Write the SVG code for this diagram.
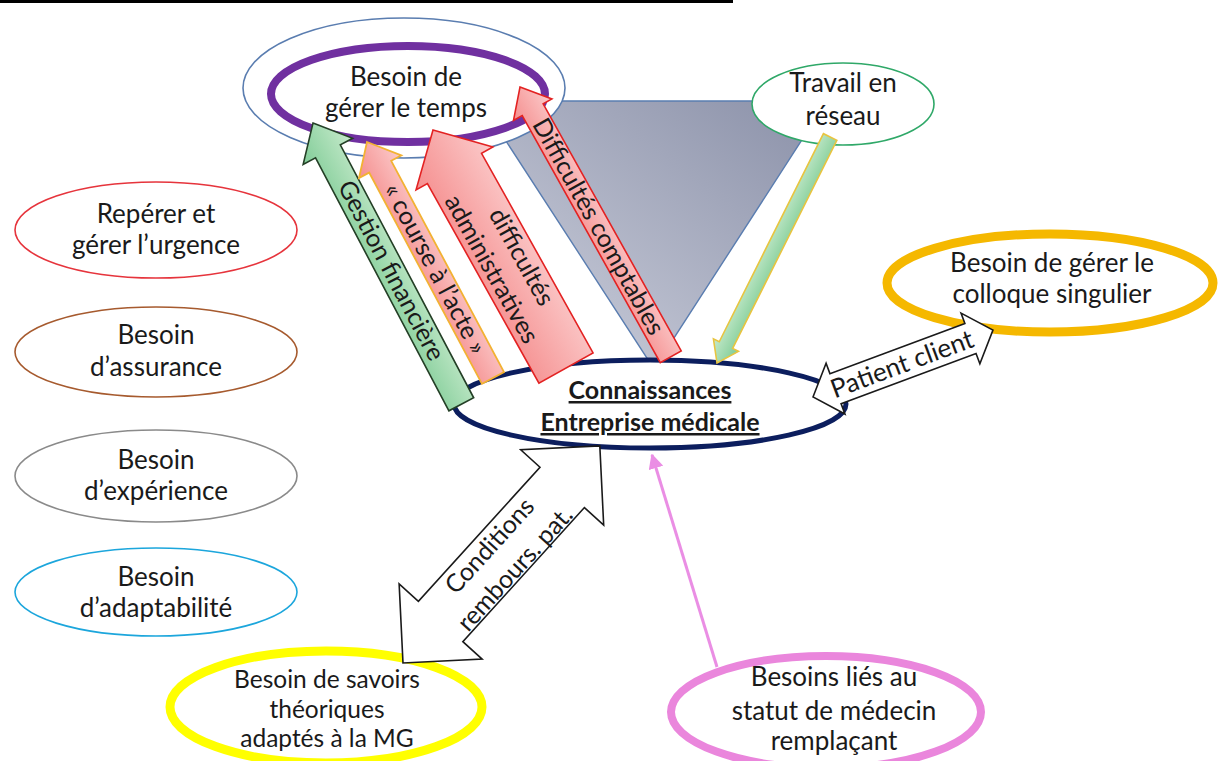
<svg xmlns="http://www.w3.org/2000/svg" width="1218" height="761" viewBox="0 0 1218 761">
  <defs>
    <style>
      text { font-family: "Lato", "Liberation Sans", sans-serif; fill: #1a1a1a; text-anchor: middle; }
      .lbl { font-size: 26px; }
      .lbl-sm { font-size: 24.5px; }
      .arr { font-size: 25px; }
      .bold { font-weight: bold; font-size: 25px; text-decoration: underline; }
      .thin { fill: #ffffff; stroke-width: 1.6; }
      .red-arrow { fill: url(#pinkFill); stroke: #e32222; stroke-width: 1.6; }
      .white-arrow { fill: #ffffff; stroke: #1a1a1a; stroke-width: 1.6; }
    </style>
    <linearGradient id="funnelFill" x1="0" y1="1" x2="1" y2="0">
      <stop offset="0" stop-color="#d0d3df"/>
      <stop offset="1" stop-color="#8a90a8"/>
    </linearGradient>
    <linearGradient id="pinkFill" x1="0" y1="0" x2="0" y2="1">
      <stop offset="0" stop-color="#fbcaca"/>
      <stop offset="1" stop-color="#f58e8e"/>
    </linearGradient>
    <linearGradient id="greenFill" x1="0" y1="0" x2="0" y2="1">
      <stop offset="0" stop-color="#c6eacb"/>
      <stop offset="1" stop-color="#80cc97"/>
    </linearGradient>
    <marker id="pinkHead" viewBox="0 0 10 10" refX="9" refY="5" markerWidth="5" markerHeight="5" orient="auto-start-reverse">
      <path d="M0,0 L10,5 L0,10 Z" fill="#ea8ee4"/>
    </marker>
  </defs>

  <!-- heading rule -->
  <rect x="0" y="0" width="733" height="3" fill="#000000"/>

  <!-- funnel backdrop -->
  <g id="funnel">
    <polygon points="480,101 827,101 654,369" fill="url(#funnelFill)" stroke="#5a7db0" stroke-width="1.4"/>
  </g>

  <!-- nodes -->
  <g id="node-temps">
    <ellipse cx="404" cy="88" rx="161" ry="70" class="thin" stroke="#5a7db0"/>
    <ellipse cx="408" cy="94" rx="137" ry="48" fill="#ffffff" stroke="#7030a0" stroke-width="8"/>
    <text class="lbl" x="406" y="86">Besoin de</text>
    <text class="lbl" x="406" y="117">gérer le temps</text>
  </g>

  <g id="node-reseau">
    <ellipse cx="843" cy="104" rx="91" ry="41" class="thin" stroke="#2fa868"/>
    <text class="lbl" x="843" y="92">Travail en</text>
    <text class="lbl" x="843" y="125">réseau</text>
  </g>

  <g id="node-connaissances">
    <ellipse cx="650" cy="404" rx="196" ry="44" fill="#ffffff" stroke="#0c1e5e" stroke-width="5"/>
    <text class="bold" x="650" y="399">Connaissances</text>
    <text class="bold" x="650" y="431">Entreprise médicale</text>
  </g>

  <g id="node-urgence">
    <ellipse cx="156" cy="230" rx="141" ry="48" class="thin" stroke="#e6343c"/>
    <text class="lbl" x="156" y="223">Repérer et</text>
    <text class="lbl" x="156" y="254">gérer l’urgence</text>
  </g>

  <g id="node-assurance">
    <ellipse cx="156" cy="352" rx="141" ry="45" class="thin" stroke="#a65a2e"/>
    <text class="lbl" x="156" y="344">Besoin</text>
    <text class="lbl" x="156" y="376">d’assurance</text>
  </g>

  <g id="node-experience">
    <ellipse cx="156" cy="476" rx="141" ry="46" class="thin" stroke="#8a8a8a"/>
    <text class="lbl" x="156" y="469">Besoin</text>
    <text class="lbl" x="156" y="500">d’expérience</text>
  </g>

  <g id="node-adaptabilite">
    <ellipse cx="156" cy="592" rx="141" ry="44" class="thin" stroke="#1ca6dc"/>
    <text class="lbl" x="156" y="586">Besoin</text>
    <text class="lbl" x="156" y="617">d’adaptabilité</text>
  </g>

  <g id="node-colloque">
    <ellipse cx="1050" cy="283" rx="163" ry="49" fill="#ffffff" stroke="#f5b800" stroke-width="9"/>
    <text class="lbl" x="1052" y="272">Besoin de gérer le</text>
    <text class="lbl" x="1052" y="303">colloque singulier</text>
  </g>

  <g id="node-savoirs">
    <ellipse cx="326" cy="707" rx="156" ry="56" fill="#ffffff" stroke="#ffff00" stroke-width="9"/>
    <text class="lbl-sm" x="327" y="688">Besoin de savoirs</text>
    <text class="lbl-sm" x="327" y="717.5">théoriques</text>
    <text class="lbl-sm" x="327" y="747">adaptés à la MG</text>
  </g>

  <g id="node-remplacant">
    <ellipse cx="826" cy="712" rx="155" ry="56" fill="#ffffff" stroke="#ea86dc" stroke-width="8"/>
    <text class="lbl" x="834" y="686">Besoins liés au</text>
    <text class="lbl" x="834" y="720">statut de médecin</text>
    <text class="lbl" x="834" y="750">remplaçant</text>
  </g>

  <!-- connectors -->
  <g id="connectors">
    <!-- Gestion financière -->
    <g transform="translate(313,123) rotate(62.2)">
      <path d="M0,0 L32,-28 L32,-14 L318,-14 L318,14 L32,14 L32,28 Z" fill="url(#greenFill)" stroke="#243f26" stroke-width="1.6"/>
      <text class="arr" x="167" y="8">Gestion financière</text>
    </g>
    <!-- course à l'acte -->
    <g transform="translate(367,142) rotate(61.9)">
      <path d="M0,0 L28,-24 L28,-12.5 L267.5,-12.5 L267.5,12.5 L28,12.5 L28,24 Z" fill="url(#pinkFill)" stroke="#f2b233" stroke-width="1.8"/>
      <text class="arr" x="144" y="8">« course à l’acte »</text>
    </g>
    <!-- difficultés administratives -->
    <g transform="translate(433,130) rotate(60.8)">
      <path d="M0,0 L44,-44 L44,-31 L272.6,-31 L272.6,31 L44,31 L44,44 Z" class="red-arrow"/>
      <text class="arr" x="154" y="-7">difficultés</text>
      <text class="arr" x="150" y="25">administratives</text>
    </g>
    <!-- Difficultés comptables -->
    <g transform="translate(520,87) rotate(60.8)">
      <path d="M0,0 L26,-22 L26,-12 L309,-12 L309,12 L26,12 L26,22 Z" class="red-arrow"/>
      <text class="arr" x="160" y="8">Difficultés  comptables</text>
    </g>
    <!-- Travail en réseau to Connaissances -->
    <g transform="translate(717,363) rotate(-63.4)">
      <path d="M0,0 L20,-14 L20,-7.5 L252.7,-7.5 L252.7,7.5 L20,7.5 L20,14 Z" fill="url(#greenFill)" stroke="#e8c440" stroke-width="1.6"/>
    </g>
    <!-- Patient client -->
    <g transform="translate(813,397) rotate(-20.4)">
      <path d="M0,0 L24,-27 L24,-16 L168,-16 L168,-27 L192,0 L168,27 L168,16 L24,16 L24,27 Z" class="white-arrow"/>
      <text class="arr" x="95" y="9" style="font-size:26px">Patient client</text>
    </g>
    <!-- Conditions rembours. pat. -->
    <g transform="translate(403,663) rotate(-47.8)">
      <path d="M0,0 L56,-56 L56,-30 L237,-30 L237,-56 L293,0 L237,56 L237,30 L56,30 L56,56 Z" class="white-arrow"/>
      <text class="arr" x="145" y="-6">Conditions</text>
      <text class="arr" x="145" y="28">rembours. pat.</text>
    </g>
    <!-- remplaçant to Connaissances -->
    <line x1="717" y1="667" x2="652" y2="455" stroke="#ea8ee4" stroke-width="3" marker-end="url(#pinkHead)"/>
  </g>
</svg>
